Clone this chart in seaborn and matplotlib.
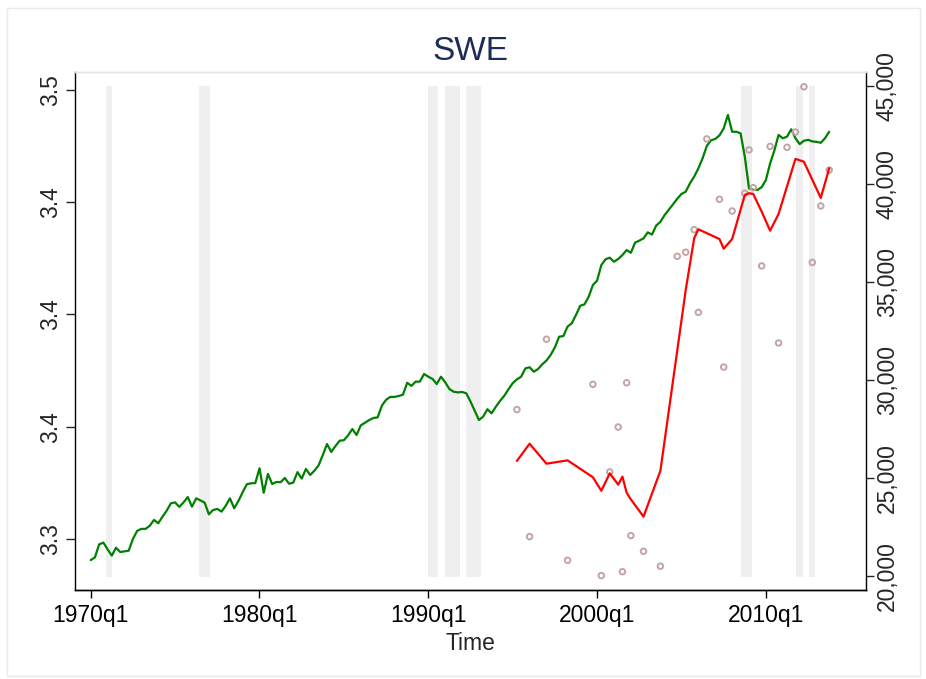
import matplotlib
matplotlib.use("Agg")
import matplotlib.pyplot as plt
import seaborn as sns
from matplotlib.patches import Rectangle

# green series (left axis), quarterly from 1970q1
green_vals = [
    3.2906, 3.2918, 3.2976, 3.2984, 3.2954, 3.2926, 3.2961, 3.2942, 3.2945, 3.2948,
    3.3000, 3.3036, 3.3045, 3.3045, 3.3059, 3.3085, 3.3070, 3.3099, 3.3126, 3.3159,
    3.3163, 3.3143, 3.3163, 3.3187, 3.3144, 3.3181, 3.3172, 3.3162, 3.3110, 3.3129,
    3.3134, 3.3122, 3.3148, 3.3181, 3.3137, 3.3169, 3.3208, 3.3244, 3.3248, 3.3249,
    3.3315, 3.3206, 3.3290, 3.3245, 3.3254, 3.3253, 3.3272, 3.3246, 3.3251, 3.3298,
    3.3269, 3.3312, 3.3285, 3.3304, 3.3328, 3.3374, 3.3423, 3.3388, 3.3414, 3.3438,
    3.3440, 3.3462, 3.3490, 3.3463, 3.3506, 3.3518, 3.3530, 3.3539, 3.3542, 3.3594,
    3.3620, 3.3633, 3.3633, 3.3637, 3.3643, 3.3696, 3.3682, 3.3701, 3.3701, 3.3735,
    3.3723, 3.3713, 3.3690, 3.3723, 3.3698, 3.3668, 3.3656, 3.3653, 3.3655, 3.3649,
    3.3612, 3.3571, 3.3530, 3.3545, 3.3578, 3.3560, 3.3589, 3.3615, 3.3638, 3.3667,
    3.3694, 3.3711, 3.3723, 3.3760, 3.3765, 3.3745, 3.3757, 3.3778, 3.3795, 3.3820,
    3.3854, 3.3901, 3.3904, 3.3946, 3.3961, 3.3998, 3.4039, 3.4045, 3.4079, 3.4131,
    3.4151, 3.4220, 3.4246, 3.4253, 3.4235, 3.4247, 3.4265, 3.4287, 3.4275, 3.4320,
    3.4329, 3.4339, 3.4366, 3.4356, 3.4396, 3.4413, 3.4443, 3.4467, 3.4491, 3.4516,
    3.4537, 3.4547, 3.4584, 3.4614, 3.4651, 3.4696, 3.4751, 3.4776, 3.4782, 3.4798,
    3.4829, 3.4889, 3.4814, 3.4814, 3.4807, 3.4703, 3.4562, 3.4555, 3.4555, 3.4567,
    3.4599, 3.4673, 3.4730, 3.4800, 3.4785, 3.4792, 3.4825, 3.4785, 3.4759, 3.4774,
    3.4778, 3.4771, 3.4769, 3.4765, 3.4785, 3.4814,
]

# red line (right axis)
red_q = ["1995q2", "1996q1", "1997q1", "1998q2", "1999q4", "2000q2", "2000q4",
         "2001q2", "2001q3", "2001q4", "2002q1", "2002q4", "2003q4", "2005q2",
         "2005q4", "2006q1", "2007q2", "2007q3", "2008q1", "2008q4", "2009q1",
         "2009q2", "2009q4", "2010q2", "2010q4", "2011q4", "2012q2", "2013q2",
         "2013q4"]
red_vals = [25870, 26750, 25730, 25900, 25040, 24350, 25240, 24660, 25070, 24250,
            23910, 23030, 25370, 34590, 37230, 37690, 37190, 36700, 37190, 39440,
            39530, 39490, 38590, 37620, 38470, 41280, 41140, 39290, 40800]

# scattered points (right axis)
pts_q = ["1995q2", "1996q1", "1997q1", "1998q2", "1999q4", "2000q2", "2000q4",
         "2001q2", "2001q3", "2001q4", "2002q1", "2002q4", "2003q4", "2004q4",
         "2005q2", "2005q4", "2006q1", "2006q3", "2007q2", "2007q3", "2008q1",
         "2008q4", "2009q1", "2009q2", "2009q4", "2010q2", "2010q4", "2011q2",
         "2011q4", "2012q2", "2012q4", "2013q2", "2013q4"]
pts_vals = [28490, 22010, 32080, 20800, 29780, 20020, 25310, 27600, 20220, 29860,
            22060, 21260, 20500, 36310, 36520, 37670, 33450, 42300, 39220, 30660,
            38620, 39530, 41740, 39810, 35820, 41920, 31890, 41870, 42650, 44960,
            36000, 38880, 40710]

# shaded periods (decimal years)
rec_start = [1970.91, 1976.42, 1989.98, 1990.99, 1992.23, 2008.52, 2011.78, 2012.55]
rec_end = [1971.26, 1977.08, 1990.57, 1991.88, 1993.12, 2009.18, 2012.20, 2012.90]

left_ticks = [3.30, 3.35, 3.40, 3.45, 3.50]
left_labels = ["3.3", "3.4", "3.4", "3.4", "3.5"]
right_ticks = [20000, 25000, 30000, 35000, 40000, 45000]
x_ticks = [1970, 1980, 1990, 2000, 2010]
x_labels = ["1970q1", "1980q1", "1990q1", "2000q1", "2010q1"]


def qnum(s):
    y, q = s.split("q")
    return int(y) + (int(q) - 1) / 4


green_t = [1970 + i / 4 for i in range(len(green_vals))]
red_t = [qnum(s) for s in red_q]
pts_t = [qnum(s) for s in pts_q]

sns.set_style("white")
plt.rcParams["font.family"] = ["Liberation Sans", "DejaVu Sans"]

fig = plt.figure(figsize=(9.26, 6.79), dpi=100)
ax = fig.add_axes([75 / 926, 89 / 679, 791 / 926, 518 / 679])
ax2 = ax.twinx()

for s, e in zip(rec_start, rec_end):
    ax.axvspan(s, e, ymin=0.025, ymax=0.973, color="#efefef", lw=0, zorder=0)

sns.lineplot(x=green_t, y=green_vals, ax=ax, color="#008000", linewidth=1.6, zorder=3)
sns.scatterplot(x=pts_t, y=pts_vals, ax=ax2, marker="o", s=16, facecolor="none",
                edgecolor="#c4a4a4", linewidth=1.4, zorder=2)
sns.lineplot(x=red_t, y=red_vals, ax=ax2, color="#ff0000", linewidth=1.6, zorder=3)

ax.set_xlim(1969.07, 2015.93)
ax.set_ylim(3.27728, 3.50802)
ax2.set_ylim(19286, 45714)

ax.set_xticks(x_ticks)
ax.set_xticklabels(x_labels)
ax.set_yticks(left_ticks)
ax.set_yticklabels(left_labels)
ax2.set_yticks(right_ticks)
ax2.set_yticklabels([f"{v:,}" for v in right_ticks])

ax.tick_params(axis="x", direction="out", length=6, width=1, pad=4,
               labelsize=16.5, bottom=True, colors="black")
ax.tick_params(axis="y", direction="out", length=6.5, width=1, pad=3,
               labelsize=16.5, left=True, labelrotation=90)
ax2.tick_params(axis="y", direction="out", length=5.5, width=1, pad=1.5,
                labelsize=16.5, right=True, labelrotation=90)
for lab in ax.get_yticklabels():
    lab.set_va("center")
for lab in ax2.get_yticklabels():
    lab.set_va("center")

ax.set_xlabel("Time", fontsize=16.5, labelpad=4)
ax.set_ylabel("")
ax2.set_ylabel("")
ax.set_title("SWE", fontsize=24, color="#1e2d55", pad=9)

for a in (ax, ax2):
    for side in ("left", "right", "bottom"):
        a.spines[side].set_color("black")
        a.spines[side].set_linewidth(1.0)
    a.spines["top"].set_color("#dde6ea")
    a.spines["top"].set_linewidth(1.0)
ax.spines["right"].set_visible(False)
ax2.spines["left"].set_visible(False)

fig.patches.append(Rectangle((7 / 926, 3 / 679), 913 / 926, 668 / 679,
                             transform=fig.transFigure, fill=False,
                             edgecolor="#e6eaee", linewidth=1.0))

fig.savefig("out.png", dpi=100)
